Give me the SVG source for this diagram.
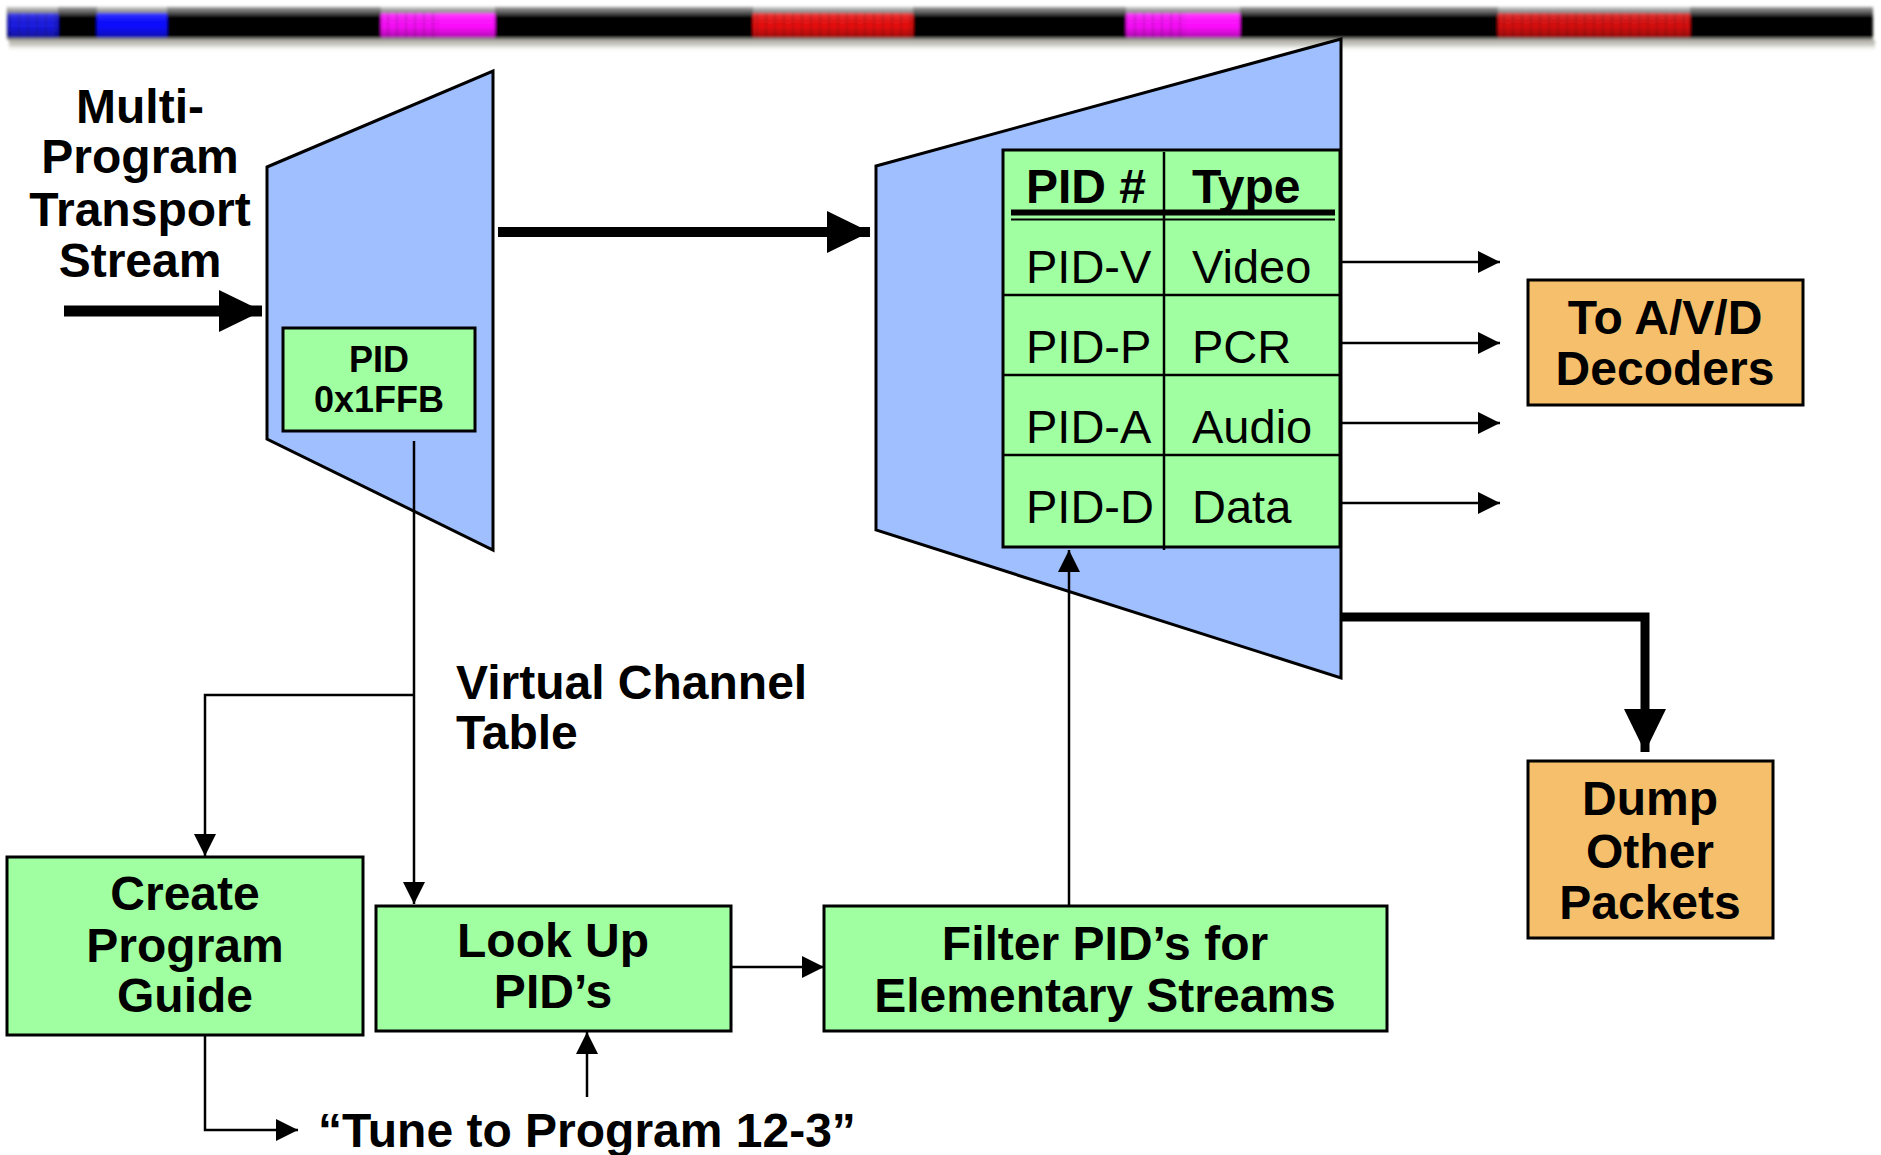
<svg xmlns="http://www.w3.org/2000/svg" width="1881" height="1155" viewBox="0 0 1881 1155">
<style>
.t{font-family:"Liberation Sans",Arial,sans-serif;font-weight:bold;font-size:48px;fill:#000;text-anchor:middle}
.l{text-anchor:start}
.reg{font-weight:normal;font-size:47px;text-anchor:start}
.blue{fill:#A0BFFF;stroke:#000;stroke-width:3}
.green{fill:#A0FFA0;stroke:#000;stroke-width:3}
.orange{fill:#F5BF6B;stroke:#000;stroke-width:3}
.thin{fill:none;stroke:#000;stroke-width:2.5}
.thick{fill:none;stroke:#000}
</style>
<defs>
<linearGradient id="barG" x1="0" y1="0" x2="0" y2="1">
<stop offset="0" stop-color="#a0a0a0"/>
<stop offset="0.18" stop-color="#555"/>
<stop offset="0.32" stop-color="#000"/>
<stop offset="0.97" stop-color="#000"/>
<stop offset="1" stop-color="#333"/>
</linearGradient>
<linearGradient id="shadowG" x1="0" y1="0" x2="0" y2="1">
<stop offset="0" stop-color="#b4b4aa"/>
<stop offset="0.35" stop-color="#c4c4bc"/>
<stop offset="1" stop-color="#ffffff" stop-opacity="0"/>
</linearGradient>
<linearGradient id="segHi" x1="0" y1="0" x2="0" y2="1">
<stop offset="0" stop-color="#fff" stop-opacity="0.45"/>
<stop offset="0.3" stop-color="#fff" stop-opacity="0.1"/>
<stop offset="0.6" stop-color="#000" stop-opacity="0"/>
<stop offset="1" stop-color="#000" stop-opacity="0.35"/>
</linearGradient>
<filter id="soft" x="-0.05" y="-0.5" width="1.1" height="2">
<feGaussianBlur stdDeviation="1.4"/>
</filter>
<pattern id="stripes" width="9" height="40" patternUnits="userSpaceOnUse">
<rect x="0" y="0" width="2" height="40" fill="#000" opacity="0.22"/>
<rect x="5" y="0" width="1" height="40" fill="#000" opacity="0.12"/>
</pattern>
<marker id="ah" markerUnits="userSpaceOnUse" markerWidth="22" markerHeight="22" refX="22" refY="11" orient="auto" viewBox="0 0 22 22">
<path d="M0,0 L22,11 L0,22 z" fill="#000"/>
</marker>
<marker id="ahBig" markerUnits="userSpaceOnUse" markerWidth="43" markerHeight="42" refX="43" refY="21" orient="auto" viewBox="0 0 43 42">
<path d="M0,0 L43,21 L0,42 z" fill="#000"/>
</marker>
</defs>

<g id="stream-bar" filter="url(#soft)">
<rect x="9" y="40" width="1866" height="12" fill="url(#shadowG)"/>
<rect x="7" y="7" width="1866" height="33" fill="url(#barG)"/>
<rect x="8" y="13" width="50" height="26" fill="#1a1ae8"/>
<rect x="97" y="13" width="70" height="26" fill="#0a0aff"/>
<rect x="381" y="13" width="114" height="26" fill="#ff10ff"/>
<rect x="753" y="13" width="160" height="26" fill="#ee1010"/>
<rect x="1126" y="13" width="114" height="26" fill="#ff10ff"/>
<rect x="1498" y="13" width="192" height="26" fill="#dd1010"/>
<rect x="8" y="7" width="50" height="32" fill="url(#segHi)"/>
<rect x="97" y="7" width="70" height="32" fill="url(#segHi)"/>
<rect x="381" y="7" width="114" height="32" fill="url(#segHi)"/>
<rect x="753" y="7" width="160" height="32" fill="url(#segHi)"/>
<rect x="1126" y="7" width="114" height="32" fill="url(#segHi)"/>
<rect x="1498" y="7" width="192" height="32" fill="url(#segHi)"/>
<rect x="8" y="13" width="50" height="26" fill="url(#stripes)"/>
<rect x="381" y="13" width="60" height="26" fill="url(#stripes)"/>
<rect x="753" y="13" width="160" height="26" fill="url(#stripes)"/>
<rect x="1126" y="13" width="60" height="26" fill="url(#stripes)"/>
<rect x="1498" y="13" width="192" height="26" fill="url(#stripes)"/>
<rect x="7" y="38" width="1866" height="2" fill="#8a8a84"/>
</g>

<g id="left-demux">
<polygon class="blue" points="267,167 493,71 493,550 267,439"/>
</g>
<g id="pid-1ffb">
<rect class="green" x="283" y="328" width="192" height="103"/>
<text class="t" x="379" y="372" style="font-size:36px">PID</text>
<text class="t" x="379" y="412" style="font-size:36px">0x1FFB</text>
</g>

<g id="right-demux">
<polygon class="blue" points="876,166 1341,39 1341,678 876,530"/>
</g>
<g id="pid-table">
<rect class="green" x="1003" y="150" width="337" height="397"/>
<line x1="1003" y1="295" x2="1340" y2="295" stroke="#000" stroke-width="2.5"/>
<line x1="1003" y1="375" x2="1340" y2="375" stroke="#000" stroke-width="2.5"/>
<line x1="1003" y1="455" x2="1340" y2="455" stroke="#000" stroke-width="2.5"/>
<line x1="1164" y1="152" x2="1164" y2="550" stroke="#000" stroke-width="2.5"/>
<line x1="1011" y1="212.5" x2="1335" y2="212.5" stroke="#000" stroke-width="6"/>
<line x1="1011" y1="219.5" x2="1335" y2="219.5" stroke="#000" stroke-width="2"/>
<text class="t l" x="1026" y="203">PID #</text>
<text class="t l" x="1192" y="203">Type</text>
<text class="t reg" x="1026" y="283">PID-V</text>
<text class="t reg" x="1192" y="283">Video</text>
<text class="t reg" x="1026" y="363">PID-P</text>
<text class="t reg" x="1192" y="363">PCR</text>
<text class="t reg" x="1026" y="443">PID-A</text>
<text class="t reg" x="1192" y="443">Audio</text>
<text class="t reg" x="1026" y="523">PID-D</text>
<text class="t reg" x="1192" y="523">Data</text>
</g>

<g id="input-label">
<text class="t" x="140" y="123">Multi-</text>
<text class="t" x="140" y="173">Program</text>
<text class="t" x="140" y="226">Transport</text>
<text class="t" x="140" y="277">Stream</text>
</g>

<g id="to-decoders">
<rect class="orange" x="1528" y="280" width="275" height="125"/>
<text class="t" x="1665" y="334">To A/V/D</text>
<text class="t" x="1665" y="385">Decoders</text>
</g>

<g id="dump-packets">
<rect class="orange" x="1528" y="761" width="245" height="177"/>
<text class="t" x="1650" y="815">Dump</text>
<text class="t" x="1650" y="868">Other</text>
<text class="t" x="1650" y="919">Packets</text>
</g>

<g id="vct-label">
<text class="t l" x="456" y="699">Virtual Channel</text>
<text class="t l" x="456" y="749">Table</text>
</g>

<g id="create-guide">
<rect class="green" x="7" y="857" width="356" height="178"/>
<text class="t" x="185" y="910">Create</text>
<text class="t" x="185" y="962">Program</text>
<text class="t" x="185" y="1012">Guide</text>
</g>

<g id="lookup-pids">
<rect class="green" x="376" y="906" width="355" height="125"/>
<text class="t" x="553" y="957">Look Up</text>
<text class="t" x="553" y="1008">PID’s</text>
</g>

<g id="filter-pids">
<rect class="green" x="824" y="906" width="563" height="125"/>
<text class="t" x="1105" y="960">Filter PID’s for</text>
<text class="t" x="1105" y="1012">Elementary Streams</text>
</g>

<g id="tune-label">
<text class="t l" x="318" y="1147">“Tune to Program 12-3”</text>
</g>

<g id="connectors">
<line class="thick" x1="64" y1="311" x2="262" y2="311" stroke-width="11" marker-end="url(#ahBig)"/>
<line class="thick" x1="498" y1="232" x2="870" y2="232" stroke-width="10" marker-end="url(#ahBig)"/>
<line class="thin" x1="414" y1="441" x2="414" y2="904" marker-end="url(#ah)"/>
<polyline class="thin" points="414,695 205,695 205,856" marker-end="url(#ah)"/>
<polyline class="thin" points="205,1035 205,1130 298,1130" marker-end="url(#ah)"/>
<line class="thin" x1="587" y1="1097" x2="587" y2="1032" marker-end="url(#ah)"/>
<line class="thin" x1="731" y1="967" x2="824" y2="967" marker-end="url(#ah)"/>
<line class="thin" x1="1069" y1="906" x2="1069" y2="550" marker-end="url(#ah)"/>
<line class="thin" x1="1341" y1="262" x2="1500" y2="262" marker-end="url(#ah)"/>
<line class="thin" x1="1341" y1="343" x2="1500" y2="343" marker-end="url(#ah)"/>
<line class="thin" x1="1341" y1="423" x2="1500" y2="423" marker-end="url(#ah)"/>
<line class="thin" x1="1341" y1="503" x2="1500" y2="503" marker-end="url(#ah)"/>
<polyline class="thick" points="1341,617 1645,617 1645,752" stroke-width="9" marker-end="url(#ahBig)"/>
</g>
</svg>
